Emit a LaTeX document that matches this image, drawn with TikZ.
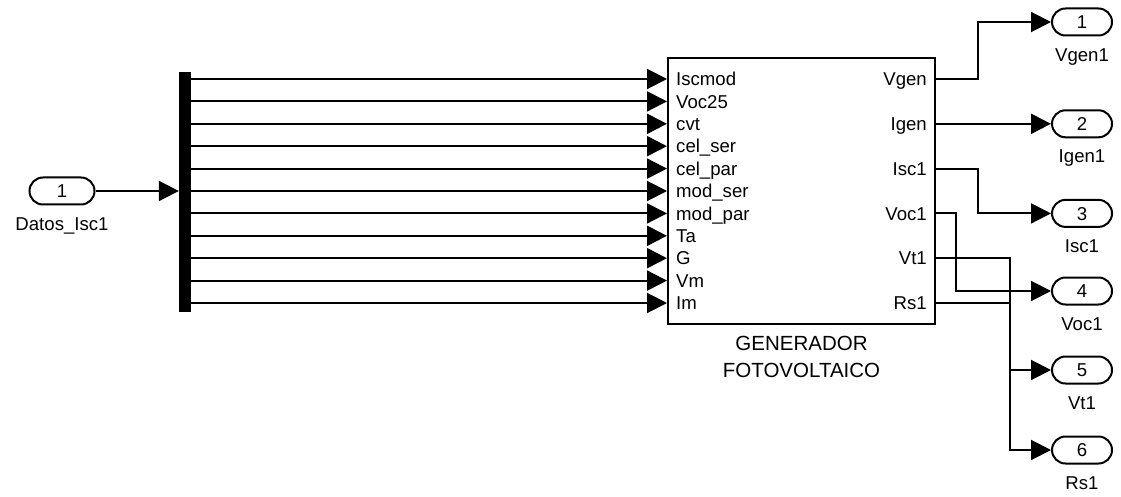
\documentclass[tikz,border=0pt]{standalone}
\usepackage{fontspec}
\setmainfont{Liberation Sans}
\usepackage{tikz}
\usetikzlibrary{arrows.meta,positioning}
\tikzset{
  lbl/.style={inner sep=0pt,text height=13.4pt,text depth=0pt,
    font=\fontsize{18.6}{20}\selectfont},
  ttl/.style={inner sep=0pt,text height=14.7pt,text depth=0pt,
    font=\fontsize{20.5}{22}\selectfont},
  port/.style={lbl,draw,line width=2pt,rectangle,rounded corners=13.5pt,
    minimum width=60pt,minimum height=27pt},
  block/.style={draw,line width=2pt,minimum width=267pt,minimum height=266pt},
  busbar/.style={fill=black,inner sep=0pt,minimum width=12pt,minimum height=240pt},
  wire/.style={line width=2pt},
  arrow/.style={wire,-{Triangle[length=20pt,width=20pt]}}
}
\begin{document}
\begin{tikzpicture}[x=1pt,y=-1pt,node distance=11pt]
\useasboundingbox (0,0) rectangle (1121,497);
% input side
\node[port,minimum width=65pt] (pin) at (62,191) {1};
\node[lbl,below=of pin] (pinlbl) {Datos\_Isc1};
\node[busbar] (bus) at (185,192) {};
\draw[arrow] (pin.east) -- (bus.west |- pin);
% subsystem
\node[block] (gen) at (801.5,191) {};
\node[ttl,below=of gen] (ttl1) {GENERADOR};
\node[ttl,below=11.3pt of ttl1] (ttl2) {FOTOVOLTAICO};
\foreach \lab [count=\i] in {Iscmod,Voc25,cvt,cel\_ser,cel\_par,mod\_ser,mod\_par,Ta,G,Vm,Im}
  \node[lbl,anchor=west] (in\i) at (676,{79+(\i-1)*22.4}) {\lab};
\foreach \i in {1,...,11}
  \draw[arrow] (bus.east |- in\i) -- (gen.west |- in\i);
\foreach \lab [count=\i] in {Vgen,Igen,Isc1,Voc1,Vt1,Rs1}
  \node[lbl,anchor=east] (out\i) at (927,{79+(\i-1)*44.8}) {\lab};
% output ports
\node[port] (p1) at (1082,22) {1};
\node[port] (p2) at (1082,123.8) {2};
\node[port] (p3) at (1082,213.4) {3};
\node[port] (p4) at (1082,291) {4};
\node[port] (p5) at (1082,370) {5};
\node[port] (p6) at (1082,450) {6};
\foreach \lab [count=\i] in {Vgen1,Igen1,Isc1,Voc1,Vt1,Rs1}
  \node[lbl,below=of p\i] (plbl\i) {\lab};
\coordinate (jA) at (978,0);
\coordinate (jB) at (956,0);
\coordinate (jC) at (1010,0);
\draw[arrow] (gen.east |- out1) -| (jA |- p1) -- (p1.west);
\draw[arrow] (gen.east |- out2) -- (p2.west);
\draw[arrow] (gen.east |- out3) -| (jA |- p3) -- (p3.west);
\draw[arrow] (gen.east |- out4) -| (jB |- p4) -- (p4.west);
\draw[arrow] (gen.east |- out5) -| (jC |- p5) -- (p5.west);
\draw[arrow] (gen.east |- out6) -| (jC |- p6) -- (p6.west);
\end{tikzpicture}
\end{document}
